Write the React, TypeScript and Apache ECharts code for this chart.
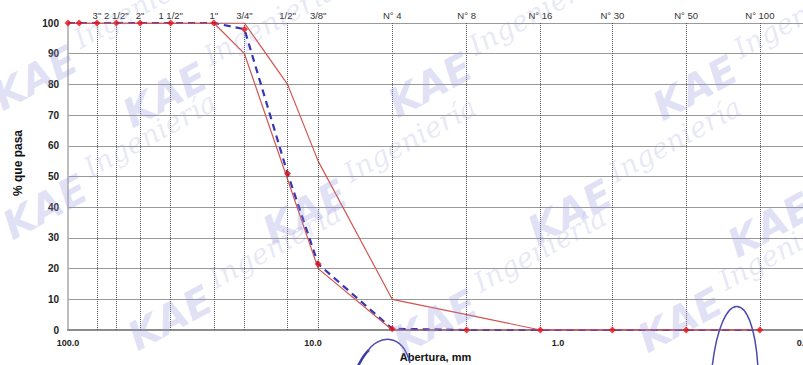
import React, { useEffect, useRef } from "react";
import * as echarts from "echarts";

// Sample gradation (sieve opening in mm, % passing)
const sampleSizes = [100, 90, 76.2, 63.5, 50.8, 38.1, 25.4, 19.05, 12.7, 9.525, 4.75, 2.36, 1.18, 0.6, 0.3, 0.15];
const samplePassing = [100, 100, 100, 100, 100, 100, 100, 98, 51, 21.5, 0.4, 0, 0, 0, 0, 0];

// Specification limits
const upperSizes = [100, 19.05, 12.7, 9.525, 4.75, 2.36, 1.18, 0.15];
const upperPassing = [100, 100, 80, 55, 10, 5, 0, 0];
const lowerSizes = [100, 25.4, 19.05, 9.525, 4.75, 0.15];
const lowerPassing = [100, 100, 90, 20, 0, 0];

// Sieve reference lines
const sieveNames = ['3"', '2 1/2"', '2"', '1 1/2"', '1"', '3/4"', '1/2"', '3/8"', "N° 4", "N° 8", "N° 16", "N° 30", "N° 50", "N° 100"];
const sieveSizes = [76.2, 63.5, 50.8, 38.1, 25.4, 19.05, 12.7, 9.525, 4.75, 2.36, 1.18, 0.6, 0.3, 0.15];

const yTicks = [0, 100, 10]; // min, max, interval
const xRange = [0.1, 100];

// watermark anchors (decorative)
const watermarkKAE: [number, number][] = [
  [35, 78], [165, 95], [430, 85], [695, 88],
  [45, 207], [305, 212], [570, 212], [770, 225],
  [170, 318], [435, 322], [680, 320],
];

const FONT = '"Liberation Sans", Arial, sans-serif';

export default function App() {
  const ref = useRef<HTMLDivElement>(null);
  useEffect(() => {
    if (!ref.current) return;
    const chart = echarts.init(ref.current, undefined, { renderer: "svg" });
    const zip = (a: number[], b: number[]) => a.map((v, i) => [v, b[i]]);

    const wm: any[] = [];
    watermarkKAE.forEach(([x, y]) => {
      wm.push({
        type: "text", x, y, rotation: 0.5, silent: true, z: 100,
        style: {
          text: "KAE", fontFamily: '"DejaVu Sans", sans-serif', fontWeight: "bold", fontStyle: "italic",
          fontSize: 40, fill: "rgba(150,150,220,0.28)", align: "center", verticalAlign: "middle",
        },
      });
      wm.push({
        type: "text", x: x + 105, y: y - 72, rotation: 0.5, silent: true, z: 100,
        style: {
          text: "Ingeniería", fontFamily: '"DejaVu Serif", serif', fontStyle: "italic",
          fontSize: 28, fill: "rgba(150,150,215,0.22)", align: "center", verticalAlign: "middle",
        },
      });
    });

    const markLineData = sieveSizes.map((s, i) => [
      { coord: [s, 0], name: sieveNames[i] },
      { coord: [s, 100] },
    ]);

    chart.setOption({
      animation: false,
      backgroundColor: "#ffffff",
      grid: { left: 68, right: 0, top: 23, bottom: 35, containLabel: false, outerBoundsMode: "none" },
      xAxis: {
        type: "log",
        logBase: 10,
        min: xRange[0],
        max: xRange[1],
        inverse: true,
        name: "Abertura, mm",
        nameLocation: "middle",
        nameGap: 20,
        nameTextStyle: { fontFamily: FONT, fontWeight: "bold", fontSize: 11, color: "#111" },
        axisLine: { show: true, lineStyle: { color: "#8c8c8c", width: 2 } },
        axisTick: { show: false },
        splitLine: { show: false },
        axisLabel: {
          formatter: (v: number) => v.toFixed(1),
          fontFamily: FONT, fontWeight: "bold", fontSize: 9, color: "#222", margin: 8,
        },
      },
      yAxis: {
        type: "value",
        min: yTicks[0],
        max: yTicks[1],
        interval: yTicks[2],
        axisLine: { show: true, lineStyle: { color: "#a8a8a8", width: 1.5 } },
        axisTick: { show: false },
        splitLine: { show: true, lineStyle: { color: "#9a9a9a", width: 1 } },
        axisLabel: { fontFamily: FONT, fontWeight: "bold", fontSize: 10, color: "#222", margin: 9 },
      },
      graphic: [
        {
          type: "text", x: 18, y: 163, rotation: Math.PI / 2, silent: true,
          style: {
            text: "% que pasa", fontFamily: FONT, fontWeight: "bold", fontSize: 12, fill: "#111",
            align: "center", verticalAlign: "middle",
          },
        },
        {
          type: "bezierCurve", silent: true, z: 100,
          shape: { x1: 357, y1: 368, cpx1: 361, cpy1: 360, cpx2: 364, cpy2: 354, x2: 369, y2: 350 },
          style: { stroke: "#3c3ca8", lineWidth: 2.5, fill: "none" },
        },
        {
          type: "bezierCurve", silent: true, z: 100,
          shape: { x1: 367, y1: 352, cpx1: 378, cpy1: 335, cpx2: 402, cpy2: 332, x2: 410, y2: 363 },
          style: { stroke: "#4a4ab0", lineWidth: 1.5, fill: "none" },
        },
        {
          type: "bezierCurve", silent: true, z: 100,
          shape: { x1: 712, y1: 368, cpx1: 721, cpy1: 288, cpx2: 753, cpy2: 284, x2: 758, y2: 368 },
          style: { stroke: "#4a4ab0", lineWidth: 1.5, fill: "none" },
        },
        ...wm,
      ],
      series: [
        {
          type: "line",
          data: [],
          z: 1,
          markLine: {
            silent: true,
            symbol: ["none", "none"],
            animation: false,
            lineStyle: { type: "dotted", color: "#555", width: 1 },
            label: {
              show: true, position: "end", formatter: "{b}", distance: 3,
              fontFamily: FONT, fontSize: 9.5, color: "#333",
            },
            data: markLineData,
          },
        },
        {
          name: "Muestra",
          type: "line",
          data: zip(sampleSizes, samplePassing),
          showSymbol: false,
          z: 3,
          lineStyle: { color: "#3535b8", width: 2.2, type: [7, 5] },
        },
        {
          name: "Límite superior",
          type: "line",
          data: zip(upperSizes, upperPassing),
          showSymbol: false,
          z: 4,
          lineStyle: { color: "#d2554f", width: 1.2 },
        },
        {
          name: "Límite inferior",
          type: "line",
          data: zip(lowerSizes, lowerPassing),
          showSymbol: false,
          z: 4,
          lineStyle: { color: "#d2554f", width: 1.2 },
        },
        {
          name: "Puntos",
          type: "scatter",
          data: zip(sampleSizes, samplePassing),
          symbol: "diamond",
          symbolSize: 7,
          z: 5,
          itemStyle: { color: "#e3121b" },
        },
      ],
    });
    return () => chart.dispose();
  }, []);

  return (
    <div
      ref={ref}
      style={{ position: "fixed", left: 0, top: 0, width: 803, height: 365, background: "#fff" }}
    />
  );
}
